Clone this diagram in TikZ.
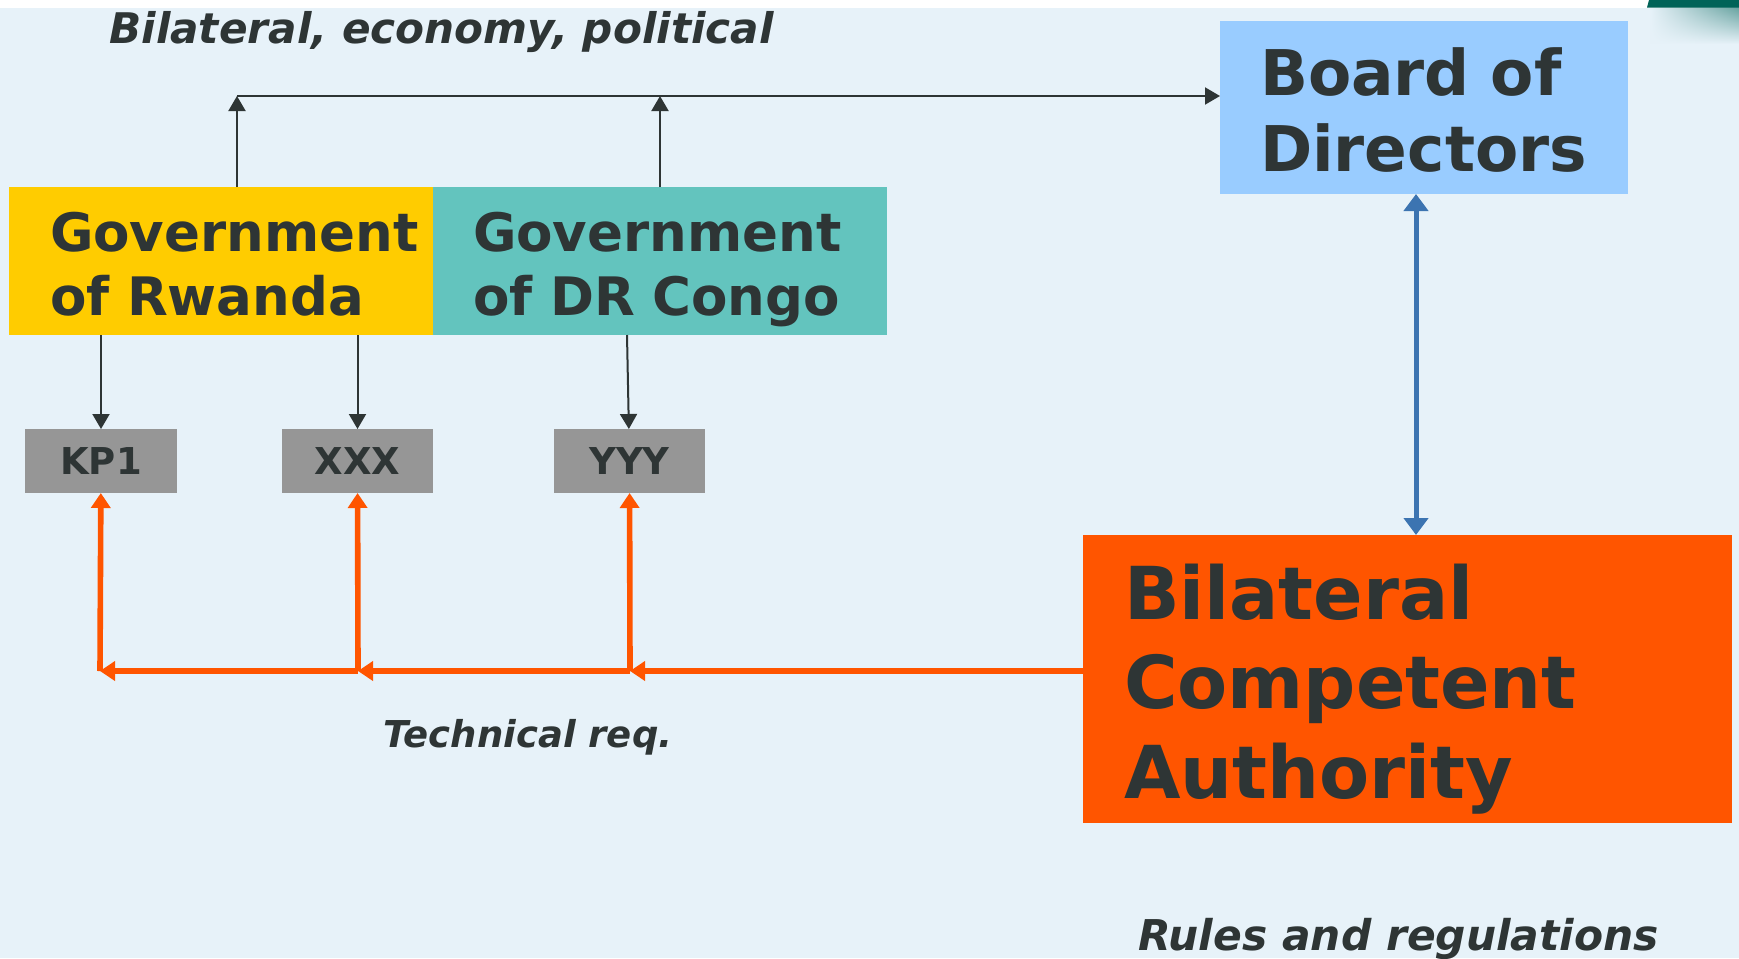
\documentclass[tikz,border=0pt]{standalone}
\usepackage{fontspec}
\setmainfont{DejaVu Sans}
\usetikzlibrary{arrows.meta,fadings}
\definecolor{bg}{HTML}{E7F2F9}
\definecolor{ink}{HTML}{2E3535}
\definecolor{rwyellow}{HTML}{FFCC00}
\definecolor{cgteal}{HTML}{63C4BE}
\definecolor{bodblue}{HTML}{99CCFF}
\definecolor{kpgray}{HTML}{969696}
\definecolor{bcaorange}{HTML}{FF5500}
\definecolor{linkblue}{HTML}{3C74B1}
\definecolor{cornerteal}{HTML}{006358}
\begin{document}
\begin{tikzpicture}[x=0.5pt,y=-0.5pt,
  box/.style={anchor=north west, inner sep=0pt, outer sep=0pt},
  boxtext/.style={anchor=base west, inner sep=0pt, outer sep=0pt, align=left, text=ink},
  smallbox/.style={box, fill=kpgray, minimum width=75.5pt, minimum height=32pt,
     text=ink, font=\fontsize{18.5}{22}\selectfont\bfseries},
  govfont/.style={font=\fontsize{26.5}{32}\selectfont\bfseries},
  note/.style={anchor=base west, inner sep=0pt, text=ink},
  darrow/.style={draw=ink, line width=1pt, -{Triangle[length=7.5pt,width=8.5pt]}},
  oarrow/.style={draw=bcaorange, line width=2.8pt, -{Triangle[length=7.5pt,width=9.5pt]}},
  barrow/.style={draw=linkblue, line width=2.5pt, {Triangle[length=8.5pt,width=12pt]}-{Triangle[length=8.5pt,width=12pt]}}
]
% canvas
\fill[bg] (0,0) rectangle (1739,958);
\useasboundingbox (0,0) rectangle (1739,958);
\fill[white] (0,0) rectangle (1739,7.5);
\shade[top color=cornerteal!55!bg, bottom color=bg, path fading=west] (1650,7.5) rectangle (1739,44);
\fill[cornerteal] (1649,0) -- (1739,0) -- (1739,7.5) -- (1647,7.5) -- cycle;

% boxes
\node[box, fill=rwyellow, minimum width=212pt, minimum height=74pt] (rw) at (9,187) {};
\node[box, fill=cgteal, minimum width=227pt, minimum height=74pt] (cg) at (433,187) {};
\node[box, fill=bodblue, minimum width=204pt, minimum height=86.5pt] (bod) at (1220,21) {};
\node[box, fill=bcaorange, minimum width=324.5pt, minimum height=144pt] (bca) at (1083,535) {};
\node[smallbox, minimum width=76pt] (kp1) at (25,429) {KP1};
\node[smallbox] (xxx) at (282,429) {XXX};
\node[smallbox] (yyy) at (554,429) {YYY};

% box texts
\node[boxtext, govfont, text width=200pt] (rwt) at (50,251) {Government\\of Rwanda};
\node[boxtext, govfont, text width=200pt] (cgt) at (473,251) {Government\\of DR Congo};
\node[boxtext, text width=200pt, font=\fontsize{31.5}{38}\selectfont\bfseries] (bodt) at (1260,95) {Board of\\Directors};
\node[boxtext, text width=300pt, font=\fontsize{36.5}{44.75}\selectfont\bfseries] (bcat) at (1124,619) {Bilateral\\Competent\\Authority};

% free labels
\node[note, font=\fontsize{21.1}{25}\selectfont\bfseries\itshape] (lbl1) at (109,43) {Bilateral, economy, political};
\node[note, font=\fontsize{18.5}{22}\selectfont\bfseries\itshape] (lbl2) at (383,747) {Technical req.};
\node[note, font=\fontsize{21.2}{26}\selectfont\bfseries\itshape] (lbl3) at (1138,950) {Rules and regulations};

% political line
\coordinate (c1) at (237,96);
\coordinate (c2) at (660,96);
\draw[darrow] (c1 |- rw.north) -- (c1);
\draw[darrow] (c2 |- cg.north) -- (c2);
\draw[darrow] (c1) -- (c1 -| bod.west);

% government to bodies
\draw[darrow] (kp1 |- rw.south) -- (kp1);
\draw[darrow] (xxx |- rw.south) -- (xxx);
\coordinate (d3) at (627,335);
\draw[darrow] (d3) -- (yyy);

% board <-> authority
\coordinate (bx) at (1416,0);
\draw[barrow] (bx |- bod.south) -- (bx |- bca.north);

% technical requirements
\coordinate (j1) at (100,671);
\coordinate (j2) at (358,671);
\coordinate (j3) at (630,671);
\draw[oarrow] (j3 -| bca.west) -- (j3);
\draw[oarrow] (j3) -- (j2);
\draw[oarrow] (j2) -- (j1);
\draw[oarrow] (j1) -- (kp1);
\draw[oarrow] (j2) -- (xxx);
\draw[oarrow] (j3) -- (yyy);
\end{tikzpicture}
\end{document}
